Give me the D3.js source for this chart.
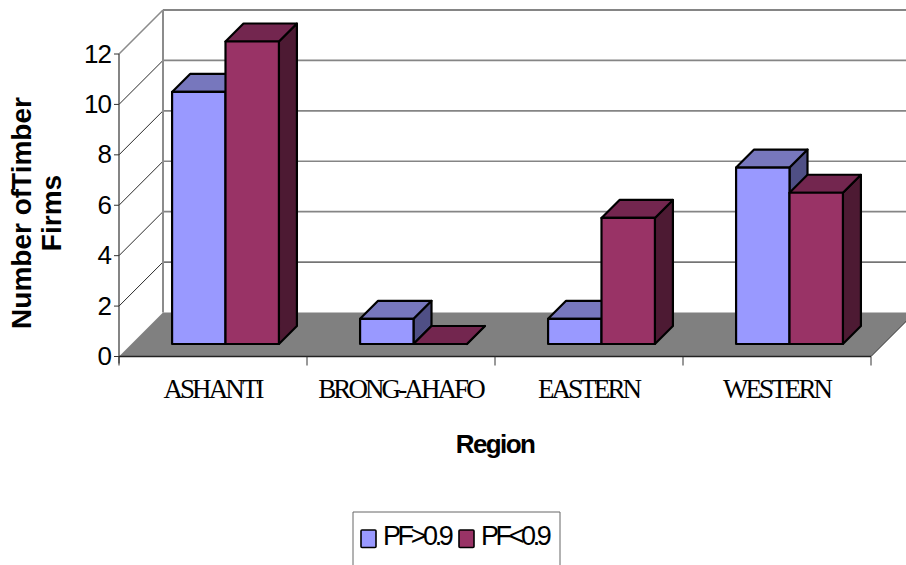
<!DOCTYPE html>
<html>
<head>
<meta charset="utf-8">
<script src="https://cdn.jsdelivr.net/npm/d3@7"></script>
<style>
html,body{margin:0;padding:0;background:#fff;overflow:hidden}
svg{display:block}
.sans{font-family:"Liberation Sans",Arial,sans-serif;fill:#000}
.serif{font-family:"Liberation Serif","Times New Roman",serif;fill:#000}
</style>
</head>
<body>
<svg id="chart" width="906" height="565"></svg>
<script>
// Timber firms per region, split by power factor band
const regions = ["ASHANTI", "BRONG-AHAFO", "EASTERN", "WESTERN"];
const seriesNames = ["PF>0.9", "PF<0.9"];
const pfAbove = [10, 1, 1, 7];
const pfBelow = [12, 0, 5, 6];
const yTicks = [0, 2, 4, 6, 8, 10, 12];

const seriesValues = [pfAbove, pfBelow];
const faces = [
  {front: "#9999ff", top: "#7777bd", side: "#4f4f85"},
  {front: "#993366", top: "#73264f", side: "#4d1a33"}
];

const svg = d3.select("#chart");

// Oblique projection: a point at depth d is shifted right and up by d pixels
const wallDepth = 44;
const barNear = 12.5;
const barFar = 30.5;
const x = d3.scaleBand().domain(regions).range([119, 871]);
const xInner = d3.scaleBand().domain(d3.range(seriesNames.length))
  .range([0, x.bandwidth()]).paddingInner(0).paddingOuter(0.76);
const y = d3.scaleLinear().domain([0, 12]).range([356.5, 54]);
const pt = (px, v, d) => [px + d, y(v) - d];
const poly = pts => "M" + pts.map(p => p.join(",")).join("L") + "Z";

const xL = x.range()[0], xR = x.range()[1];

// Side wall and back wall grid
const grid = svg.append("g");
yTicks.filter(v => v > 0).forEach(v => {
  const heavy = v !== 2;
  grid.append("line")
    .attr("x1", pt(xL, v, wallDepth)[0]).attr("y1", pt(xL, v, wallDepth)[1])
    .attr("x2", pt(xR, v, wallDepth)[0]).attr("y2", pt(xR, v, wallDepth)[1])
    .attr("stroke", heavy ? "#858585" : "#111")
    .attr("stroke-width", heavy ? (v === 12 ? 2 : 1.6) : 1);
  grid.append("line")
    .attr("x1", xL).attr("y1", y(v))
    .attr("x2", pt(xL, v, wallDepth)[0]).attr("y2", pt(xL, v, wallDepth)[1])
    .attr("stroke", v === 12 ? "#8c8c8c" : "#111")
    .attr("stroke-width", v === 12 ? 1.6 : 0.9);
});
grid.append("line")
  .attr("x1", xL + wallDepth).attr("y1", y(12) - wallDepth)
  .attr("x2", xL + wallDepth).attr("y2", y(0) - wallDepth)
  .attr("stroke", "#8c8c8c").attr("stroke-width", 2);

// Floor
svg.append("path")
  .attr("d", poly([pt(xL, 0, 0), pt(xR, 0, 0), pt(xR, 0, wallDepth), pt(xL, 0, wallDepth)]))
  .attr("fill", "#808080");
svg.append("line")
  .attr("x1", xR).attr("y1", y(0))
  .attr("x2", pt(xR, 0, wallDepth)[0]).attr("y2", pt(xR, 0, wallDepth)[1])
  .attr("stroke", "#333").attr("stroke-width", 1);

// Axes
svg.append("line").attr("x1", xL).attr("x2", xL).attr("y1", y(12)).attr("y2", y(0) + 7)
  .attr("stroke", "#333").attr("stroke-width", 1.2);
svg.append("line").attr("x1", xL).attr("x2", xR).attr("y1", y(0)).attr("y2", y(0))
  .attr("stroke", "#222").attr("stroke-width", 1.4);

svg.append("g").selectAll("line").data(yTicks).join("line")
  .attr("x1", xL - 5).attr("x2", xL).attr("y1", d => y(d)).attr("y2", d => y(d))
  .attr("stroke", "#333").attr("stroke-width", 1);
svg.append("g").selectAll("line").data(d3.range(regions.length + 1)).join("line")
  .attr("x1", i => xL + i * x.step()).attr("x2", i => xL + i * x.step())
  .attr("y1", y(0)).attr("y2", y(0) + 9)
  .attr("stroke", "#333").attr("stroke-width", 1);

svg.append("g").selectAll("text").data(yTicks).join("text")
  .attr("class", "sans")
  .attr("x", 111).attr("y", d => y(d) + 8.5)
  .attr("text-anchor", "end")
  .attr("font-size", 26).attr("letter-spacing", -1)
  .text(d => d);

// Bars: side, top and front face of each block
const bars = svg.append("g");
regions.forEach((region, i) => {
  seriesValues.forEach((values, s) => {
    const v = values[i], f = faces[s];
    const x0 = x(region) + xInner(s), x1 = x0 + xInner.bandwidth();
    const g = bars.append("g")
      .attr("stroke", "#000").attr("stroke-width", 2.2).attr("stroke-linejoin", "round");
    g.append("path").attr("fill", f.side)
      .attr("d", poly([pt(x1, 0, barNear), pt(x1, 0, barFar), pt(x1, v, barFar), pt(x1, v, barNear)]));
    g.append("path").attr("fill", f.top)
      .attr("d", poly([pt(x0, v, barNear), pt(x1, v, barNear), pt(x1, v, barFar), pt(x0, v, barFar)]));
    g.append("path").attr("fill", f.front)
      .attr("d", poly([pt(x0, 0, barNear), pt(x1, 0, barNear), pt(x1, v, barNear), pt(x0, v, barNear)]));
  });
});

// Category labels and axis titles
svg.append("g").selectAll("text").data(regions).join("text")
  .attr("class", "serif")
  .attr("x", d => x(d) + x.bandwidth() / 2 - 0.5)
  .attr("y", 398)
  .attr("text-anchor", "middle")
  .attr("font-size", 27).attr("letter-spacing", -2.9)
  .text(d => d);

svg.append("text").attr("class", "sans")
  .attr("x", 495).attr("y", 453).attr("text-anchor", "middle")
  .attr("font-size", 26).attr("font-weight", "bold").attr("letter-spacing", -1.6)
  .text("Region");

const yTitle = svg.append("text").attr("class", "sans")
  .attr("transform", "translate(31,213) rotate(-90)")
  .attr("text-anchor", "middle")
  .attr("font-size", 28).attr("font-weight", "bold");
yTitle.append("tspan").attr("x", 0).attr("y", 0).text("Number of");
yTitle.append("tspan").attr("dx", -1).text("Timber");
yTitle.append("tspan").attr("x", 0).attr("y", 30).text("Firms");

// Legend: the frame runs off the bottom of the page, so only three sides are drawn
svg.append("path").attr("d", "M353,565V512H560V565")
  .attr("fill", "none").attr("stroke", "#666").attr("stroke-width", 1);
const legendX = [{box: 361, label: 383}, {box: 459, label: 481}];
seriesNames.forEach((name, s) => {
  svg.append("rect").attr("x", legendX[s].box).attr("y", 530).attr("width", 15).attr("height", 17.5)
    .attr("rx", 1).attr("fill", faces[s].front).attr("stroke", "#000").attr("stroke-width", 1.6);
  svg.append("text").attr("class", "sans")
    .attr("x", legendX[s].label).attr("y", 545)
    .attr("font-size", 27).attr("letter-spacing", -3.4)
    .text(name);
});
</script>
</body>
</html>
